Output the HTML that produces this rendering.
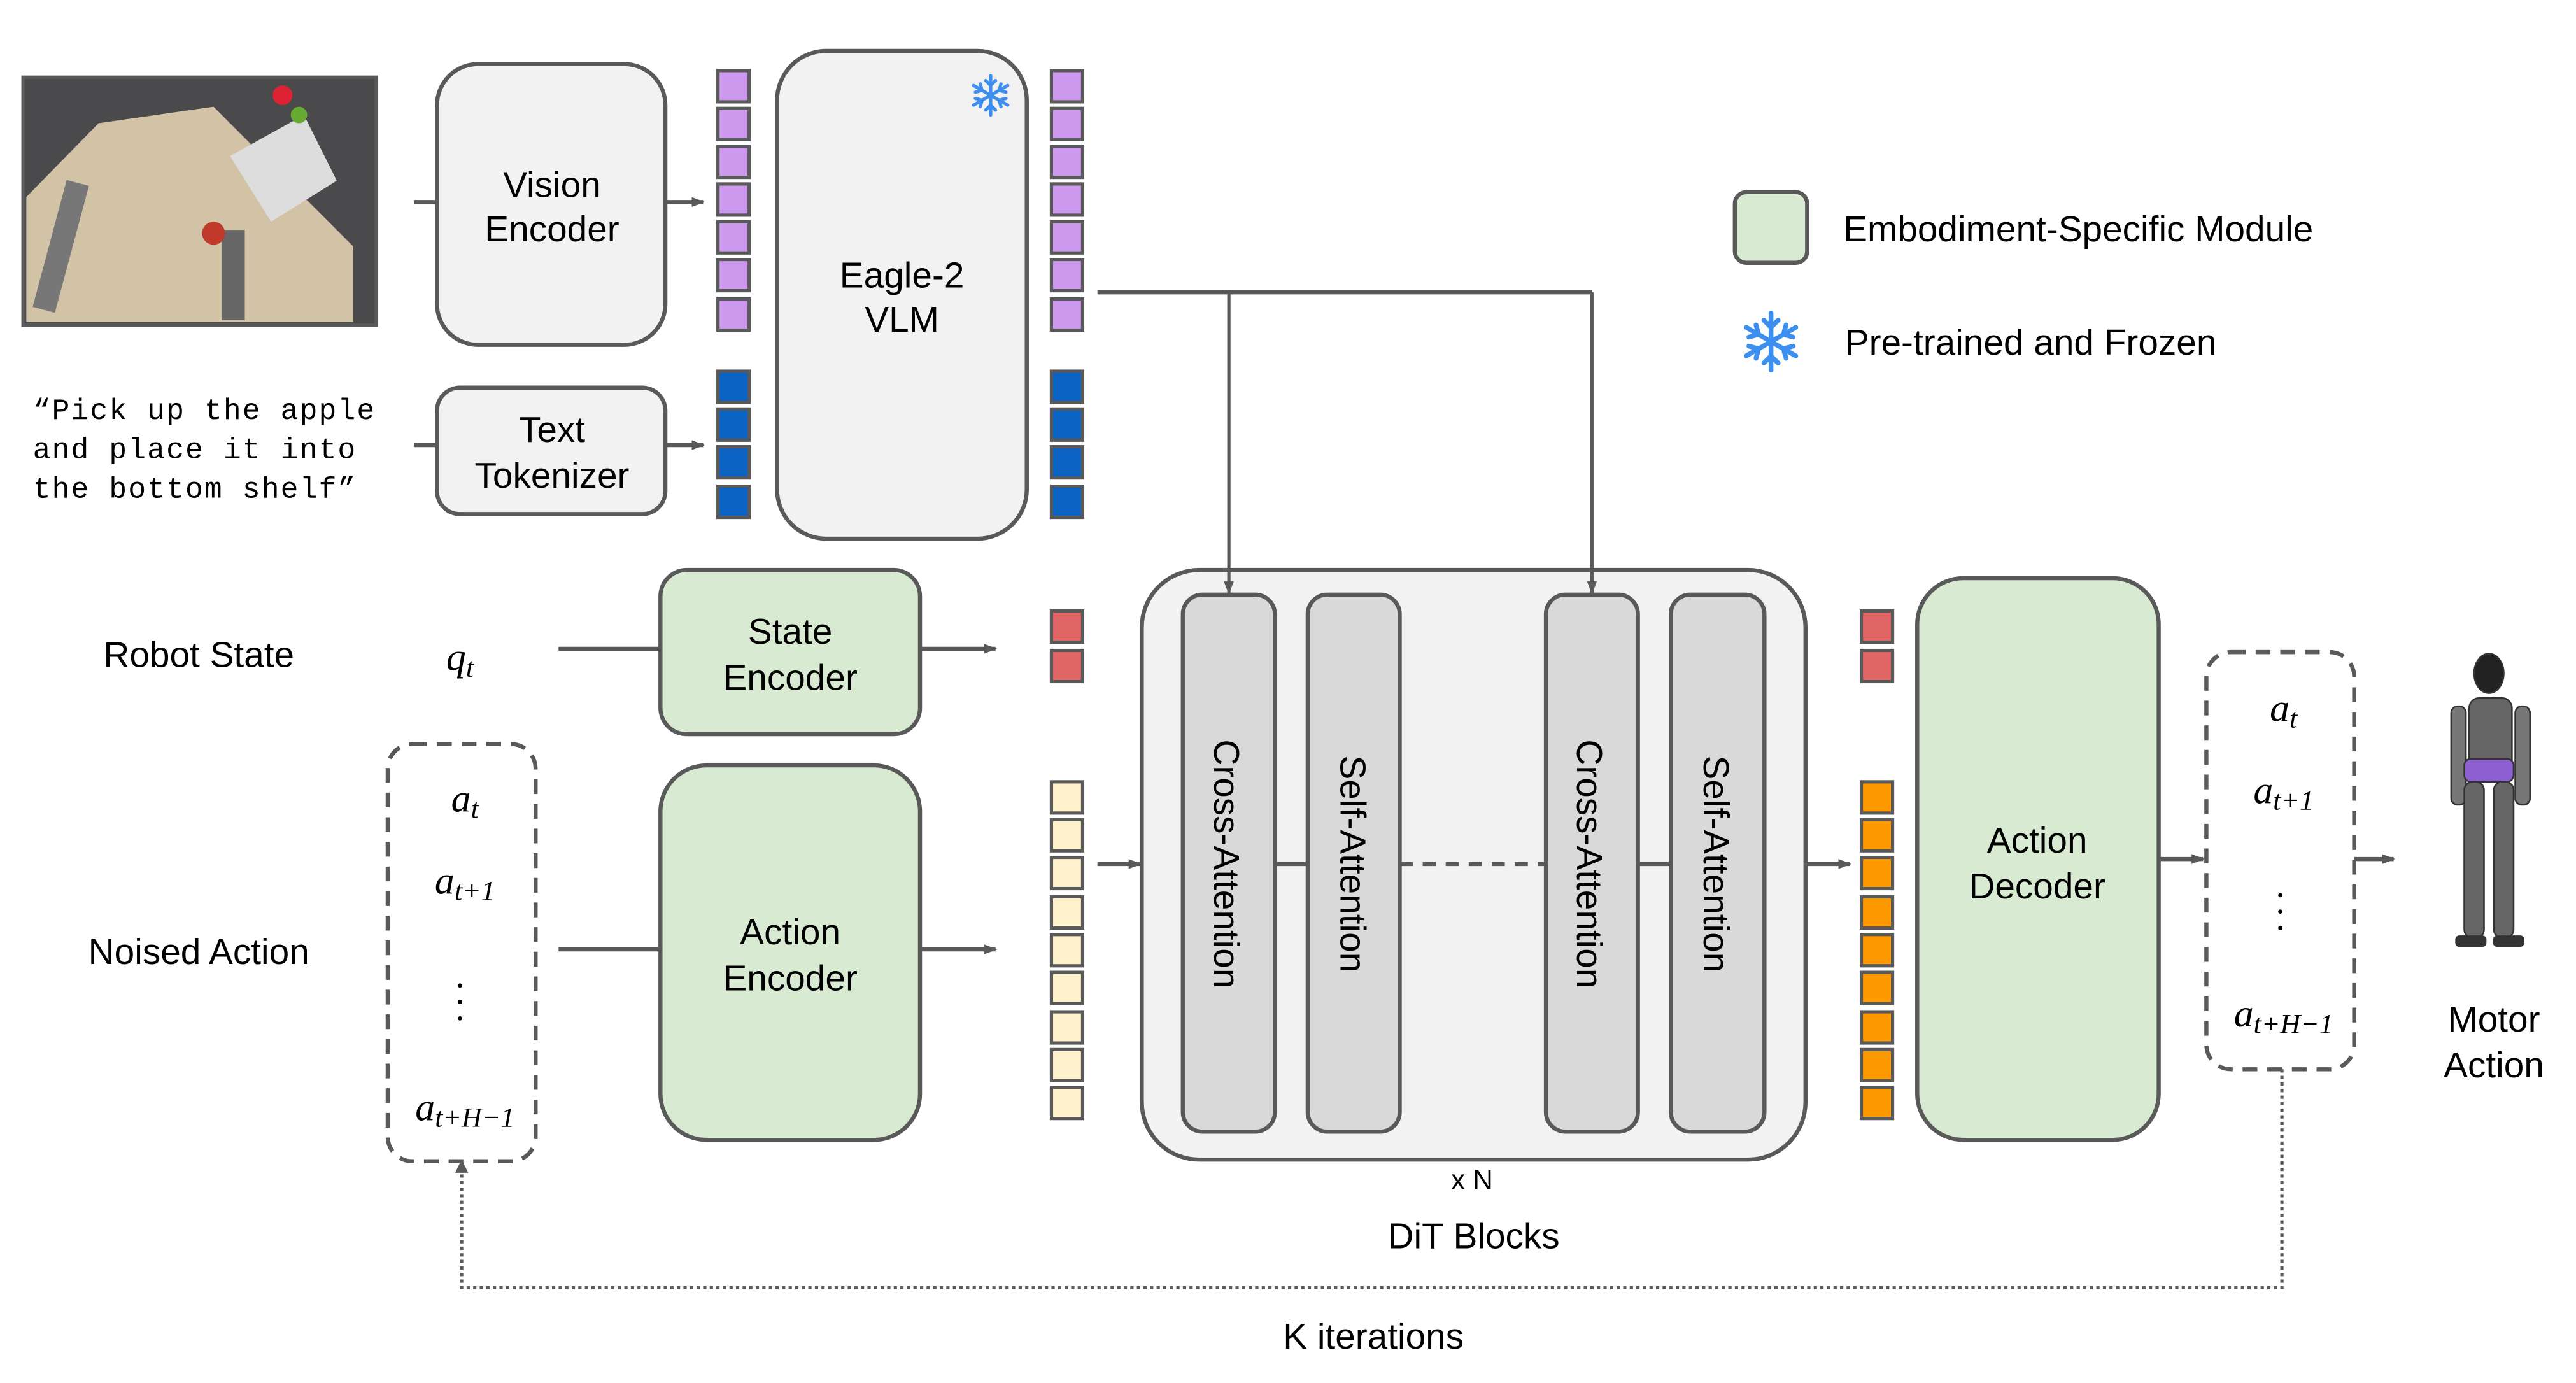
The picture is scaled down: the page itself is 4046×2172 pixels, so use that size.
<!DOCTYPE html>
<html><head><meta charset="utf-8"><style>
html,body{margin:0;padding:0;background:#fff}
svg{display:block}
text{font-family:"Liberation Sans",sans-serif;fill:#000}
.m{font-family:"Liberation Serif",serif;font-style:italic}
</style></head><body>
<svg width="4046" height="2172" viewBox="0 0 1568 842" preserveAspectRatio="none" xmlns="http://www.w3.org/2000/svg">
<defs>
<marker id="ar" markerWidth="8" markerHeight="8" refX="7" refY="4" orient="auto" markerUnits="userSpaceOnUse"><path d="M0,1 L8,4 L0,7z" fill="#595959"/></marker>
<g id="sf" stroke="#3d8fef" stroke-width="2" fill="none" stroke-linecap="round">
<path d="M0,-12V12M-10.4,-6L10.4,6M-10.4,6L10.4,-6"/>
<path d="M-3,-9L0,-6L3,-9M-3,9L0,6L3,9M-9.3,-1.9L-5.2,-3L-6.3,-7M9.3,1.9L5.2,3L6.3,7M-9.3,1.9L-5.2,3L-6.3,7M9.3,-1.9L5.2,-3L6.3,-7"/>
</g>
</defs>
<!-- photo -->
<rect x="14" y="47" width="215" height="151" fill="#4a4a4c" stroke="#595959" stroke-width="2"/>
<path d="M16,120 L60,75 L130,65 L175,110 L215,150 L215,196 L16,196z" fill="#d2c2a6"/>
<path d="M140,95 L185,70 L205,110 L165,135z" fill="#ddd"/>
<rect x="30" y="110" width="14" height="80" fill="#777" transform="rotate(15 37 150)"/>
<rect x="135" y="140" width="14" height="55" fill="#666"/>
<circle cx="130" cy="142" r="7" fill="#c0392b"/>
<circle cx="172" cy="58" r="6" fill="#d23"/><circle cx="182" cy="70" r="5" fill="#6a3"/>
<!-- quote -->
<text x="20" y="255" style="font-family:'Liberation Mono',monospace" font-size="18" letter-spacing="0.8">“Pick up the apple</text>
<text x="20" y="279" style="font-family:'Liberation Mono',monospace" font-size="18" letter-spacing="0.8">and place it into</text>
<text x="20" y="303" style="font-family:'Liberation Mono',monospace" font-size="18" letter-spacing="0.8">the bottom shelf”</text>
<g stroke="#595959" stroke-width="2.5" fill="none">
<line x1="252" y1="123" x2="266" y2="123"/>
<line x1="252" y1="271" x2="266" y2="271"/>
<line x1="405" y1="123" x2="428" y2="123" marker-end="url(#ar)"/>
<line x1="405" y1="271" x2="428" y2="271" marker-end="url(#ar)"/>
<polyline points="668,178 969,178"/>
<line x1="340" y1="395" x2="402" y2="395"/>
<line x1="560" y1="395" x2="606" y2="395" marker-end="url(#ar)"/>
<line x1="340" y1="578" x2="402" y2="578"/>
<line x1="560" y1="578" x2="606" y2="578" marker-end="url(#ar)"/>
<line x1="668" y1="526" x2="694" y2="526" marker-end="url(#ar)"/>
<line x1="1099" y1="526" x2="1126" y2="526" marker-end="url(#ar)"/>
<line x1="1314" y1="523" x2="1341" y2="523" marker-end="url(#ar)"/>
<line x1="1433" y1="523" x2="1457" y2="523" marker-end="url(#ar)"/>
</g>
<!-- boxes -->
<g stroke="#595959" stroke-width="2.5">
<rect x="266" y="39" width="139" height="171" rx="25" fill="#f2f2f2"/>
<rect x="266" y="236" width="139" height="77" rx="14" fill="#f2f2f2"/>
<rect x="473" y="31" width="152" height="297" rx="30" fill="#f2f2f2"/>
<rect x="402" y="347" width="158" height="100" rx="16" fill="#d9ead3"/>
<rect x="402" y="466" width="158" height="228" rx="28" fill="#d9ead3"/>
<rect x="695" y="347" width="404" height="359" rx="35" fill="#f2f2f2"/>
<rect x="1167" y="352" width="147" height="342" rx="28" fill="#d9ead3"/>
<rect x="1056" y="117" width="44" height="43" rx="7" fill="#d9ead3"/>
</g>
<g stroke="#595959" stroke-width="2">
<line x1="748" y1="178" x2="748" y2="361" marker-end="url(#ar)"/>
<line x1="969" y1="178" x2="969" y2="361" marker-end="url(#ar)"/>
</g>
<g stroke="#595959" stroke-width="2.5" fill="#d9d9d9">
<rect x="720" y="362" width="56" height="327" rx="12"/>
<rect x="796" y="362" width="56" height="327" rx="12"/>
<rect x="941" y="362" width="56" height="327" rx="12"/>
<rect x="1017" y="362" width="57" height="327" rx="12"/>
</g>
<g stroke="#595959" stroke-width="2.5">
<line x1="776" y1="526" x2="796" y2="526"/>
<line x1="852" y1="526" x2="941" y2="526" stroke-dasharray="8,6"/>
<line x1="997" y1="526" x2="1017" y2="526"/>
</g>
<g stroke="#595959" stroke-width="2.5" fill="none" stroke-dasharray="9,6">
<rect x="236" y="453" width="90" height="254" rx="15"/>
<rect x="1343" y="397" width="90" height="254" rx="15"/>
</g>
<polyline points="1389,651 1389,784 281,784 281,709" fill="none" stroke="#595959" stroke-width="2" stroke-dasharray="2,2"/>
<path d="M277,714 L281,706 L285,714z" fill="#595959"/>
<!-- tokens -->
<g stroke="#595959" stroke-width="2">
<g fill="#cc99ee">
<rect x="437" y="43" width="19" height="19"/><rect x="437" y="66" width="19" height="19"/><rect x="437" y="89" width="19" height="19"/><rect x="437" y="112" width="19" height="19"/><rect x="437" y="135" width="19" height="19"/><rect x="437" y="158" width="19" height="19"/><rect x="437" y="182" width="19" height="19"/>
<rect x="640" y="43" width="19" height="19"/><rect x="640" y="66" width="19" height="19"/><rect x="640" y="89" width="19" height="19"/><rect x="640" y="112" width="19" height="19"/><rect x="640" y="135" width="19" height="19"/><rect x="640" y="158" width="19" height="19"/><rect x="640" y="182" width="19" height="19"/>
</g>
<g fill="#0b63c4">
<rect x="437" y="226" width="19" height="19"/><rect x="437" y="249" width="19" height="19"/><rect x="437" y="272" width="19" height="19"/><rect x="437" y="296" width="19" height="19"/>
<rect x="640" y="226" width="19" height="19"/><rect x="640" y="249" width="19" height="19"/><rect x="640" y="272" width="19" height="19"/><rect x="640" y="296" width="19" height="19"/>
</g>
<g fill="#e06666">
<rect x="640" y="372" width="19" height="19"/><rect x="640" y="396" width="19" height="19"/>
<rect x="1133" y="372" width="19" height="19"/><rect x="1133" y="396" width="19" height="19"/>
</g>
<g fill="#fff2cc">
<rect x="640" y="476" width="19" height="19"/><rect x="640" y="499" width="19" height="19"/><rect x="640" y="522" width="19" height="19"/><rect x="640" y="546" width="19" height="19"/><rect x="640" y="569" width="19" height="19"/><rect x="640" y="592" width="19" height="19"/><rect x="640" y="616" width="19" height="19"/><rect x="640" y="639" width="19" height="19"/><rect x="640" y="662" width="19" height="19"/>
</g>
<g fill="#ff9900">
<rect x="1133" y="476" width="19" height="19"/><rect x="1133" y="499" width="19" height="19"/><rect x="1133" y="522" width="19" height="19"/><rect x="1133" y="546" width="19" height="19"/><rect x="1133" y="569" width="19" height="19"/><rect x="1133" y="592" width="19" height="19"/><rect x="1133" y="616" width="19" height="19"/><rect x="1133" y="639" width="19" height="19"/><rect x="1133" y="662" width="19" height="19"/>
</g>
</g>
<use href="#sf" transform="translate(603,58)"/>
<use href="#sf" transform="translate(1078,208) scale(1.45)"/>
<!-- robot -->
<g fill="#555" stroke="#333" stroke-width="1">
<ellipse cx="1515" cy="410" rx="9" ry="12" fill="#222"/>
<rect x="1503" y="425" width="26" height="45" rx="6" fill="#666"/>
<rect x="1492" y="430" width="9" height="60" rx="4" fill="#777"/>
<rect x="1531" y="430" width="9" height="60" rx="4" fill="#777"/>
<rect x="1500" y="462" width="30" height="14" rx="4" fill="#8e5fd0"/>
<rect x="1500" y="476" width="12" height="95" rx="5" fill="#666"/>
<rect x="1518" y="476" width="12" height="95" rx="5" fill="#666"/>
<rect x="1495" y="570" width="18" height="6" rx="2" fill="#333"/>
<rect x="1518" y="570" width="18" height="6" rx="2" fill="#333"/>
</g>
<!-- text -->
<g font-size="22" text-anchor="middle">
<text x="336" y="120">Vision</text><text x="336" y="147">Encoder</text>
<text x="336" y="269">Text</text><text x="336" y="297">Tokenizer</text>
<text x="549" y="175">Eagle-2</text><text x="549" y="202">VLM</text>
<text x="481" y="392">State</text><text x="481" y="420">Encoder</text>
<text x="481" y="575">Action</text><text x="481" y="603">Encoder</text>
<text x="1240" y="519">Action</text><text x="1240" y="547">Decoder</text>
<text x="121" y="406">Robot State</text>
<text x="121" y="587">Noised Action</text>
<text x="897" y="760">DiT Blocks</text>
<text x="836" y="821">K iterations</text>
<text x="1518" y="628">Motor</text><text x="1518" y="656">Action</text>
<text x="896" y="724" font-size="17">x N</text>
</g>
<text x="1122" y="147" font-size="22">Embodiment-Specific Module</text>
<text x="1123" y="216" font-size="22">Pre-trained and Frozen</text>
<g font-size="22">
<text transform="translate(739,526) rotate(90)" text-anchor="middle">Cross-Attention</text>
<text transform="translate(816,526) rotate(90)" text-anchor="middle">Self-Attention</text>
<text transform="translate(960,526) rotate(90)" text-anchor="middle">Cross-Attention</text>
<text transform="translate(1037,526) rotate(90)" text-anchor="middle">Self-Attention</text>
</g>
<g font-size="24" text-anchor="middle">
<text class="m" x="280" y="408">q<tspan font-size="17" dy="4">t</tspan></text>
<text class="m" x="283" y="494">a<tspan font-size="17" dy="4">t</tspan></text>
<text class="m" x="283" y="544">a<tspan font-size="17" dy="4">t+1</tspan></text>
<text class="m" x="283" y="682">a<tspan font-size="17" dy="4">t+H−1</tspan></text>
<text class="m" x="1390" y="439">a<tspan font-size="17" dy="4">t</tspan></text>
<text class="m" x="1390" y="489">a<tspan font-size="17" dy="4">t+1</tspan></text>
<text class="m" x="1390" y="625">a<tspan font-size="17" dy="4">t+H−1</tspan></text>
</g>
<g fill="#000"><circle cx="280" cy="600" r="1.3"/><circle cx="280" cy="610" r="1.3"/><circle cx="280" cy="620" r="1.3"/>
<circle cx="1388" cy="545" r="1.3"/><circle cx="1388" cy="555" r="1.3"/><circle cx="1388" cy="565" r="1.3"/></g>
</svg>
</body></html>
